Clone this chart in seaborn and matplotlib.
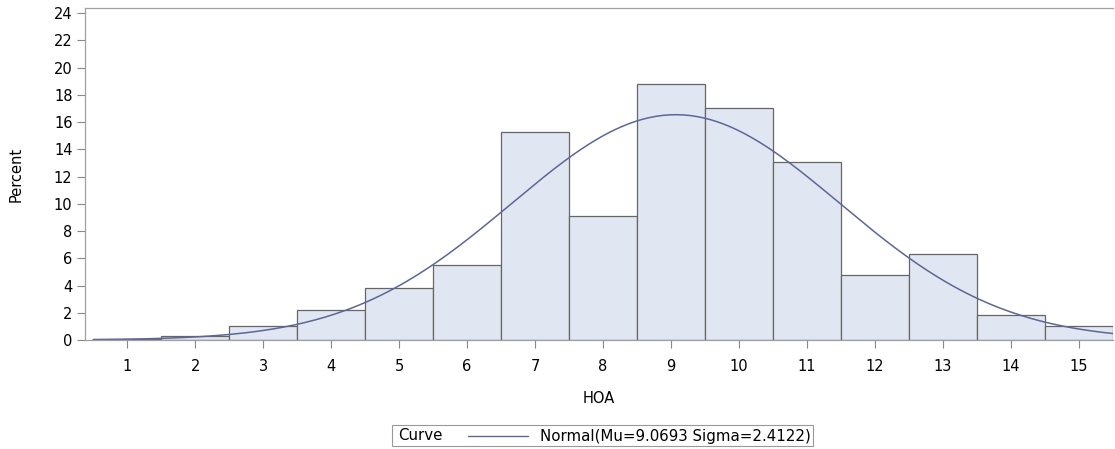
import numpy as np
import pandas as pd
import matplotlib
matplotlib.use("Agg")
import matplotlib.pyplot as plt
import seaborn as sns
from matplotlib.patches import Rectangle
from matplotlib.lines import Line2D

hoa = [1, 2, 3, 4, 5, 6, 7, 8, 9, 10, 11, 12, 13, 14, 15]
percent = [0.05, 0.3, 1.0, 2.2, 3.8, 5.5, 15.3, 9.1, 18.8, 17.0, 13.1, 4.8, 6.3, 1.8, 1.0]
mu = 9.0693
sigma = 2.4122
yticks = list(range(0, 25, 2))

df = pd.DataFrame({'HOA': hoa, 'pct': percent})

sns.set_style('white')
plt.rcParams['font.family'] = ['DejaVu Sans']
plt.rcParams['text.color'] = 'black'
plt.rcParams['axes.labelcolor'] = 'black'

fig = plt.figure(figsize=(11.15, 4.49), dpi=100)
ax = fig.add_axes([85/1115, 1 - 340/449, 1028/1115, 332/449])

sns.histplot(data=df, x='HOA', weights='pct', binwidth=1, binrange=(0.5, 15.5), ax=ax,
             color='#e1e7f2', edgecolor='#666666', linewidth=0.9, alpha=1)

# curva normal ajustada
xs = np.linspace(0.5, 15.5, 300)
ys = 100 * np.exp(-0.5 * ((xs - mu) / sigma) ** 2) / (sigma * np.sqrt(2 * np.pi))
sns.lineplot(x=xs, y=ys, ax=ax, color='#5c6795', linewidth=1.1)

ax.set_xlim(0.38, 15.5)
ax.set_ylim(0, 24.37)
ax.set_xticks(hoa)
ax.set_yticks(yticks)
ax.set_xlabel('HOA', fontsize=10.5, labelpad=12)
ax.set_ylabel('Percent', fontsize=10.5, labelpad=22)
ax.tick_params(axis='both', which='major', bottom=True, left=True, direction='out',
               length=6, width=0.8, color='#888888',
               labelsize=10.5, labelcolor='black', pad=3)
ax.tick_params(axis='x', pad=8)
for s in ax.spines.values():
    s.set_color('#a0a0a0')
    s.set_linewidth(0.9)
ax.spines['right'].set_visible(False)

# leyenda al estilo SAS
W, H = 1115, 449
fig.add_artist(Rectangle((392/W, 1 - 446/H), 421/W, 21/H, transform=fig.transFigure,
                         facecolor='white', edgecolor='#999999', linewidth=0.8))
fig.text(398/W, 1 - 436/H, 'Curve', fontsize=10.8, va='center', ha='left')
fig.add_artist(Line2D([468/W, 528/W], [1 - 436/H, 1 - 436/H], transform=fig.transFigure,
                      color='#5c6795', linewidth=1.0))
fig.text(540/W, 1 - 436/H, f'Normal(Mu={mu} Sigma={sigma})', fontsize=10.8, va='center', ha='left')

fig.savefig('out.png', dpi=100)
